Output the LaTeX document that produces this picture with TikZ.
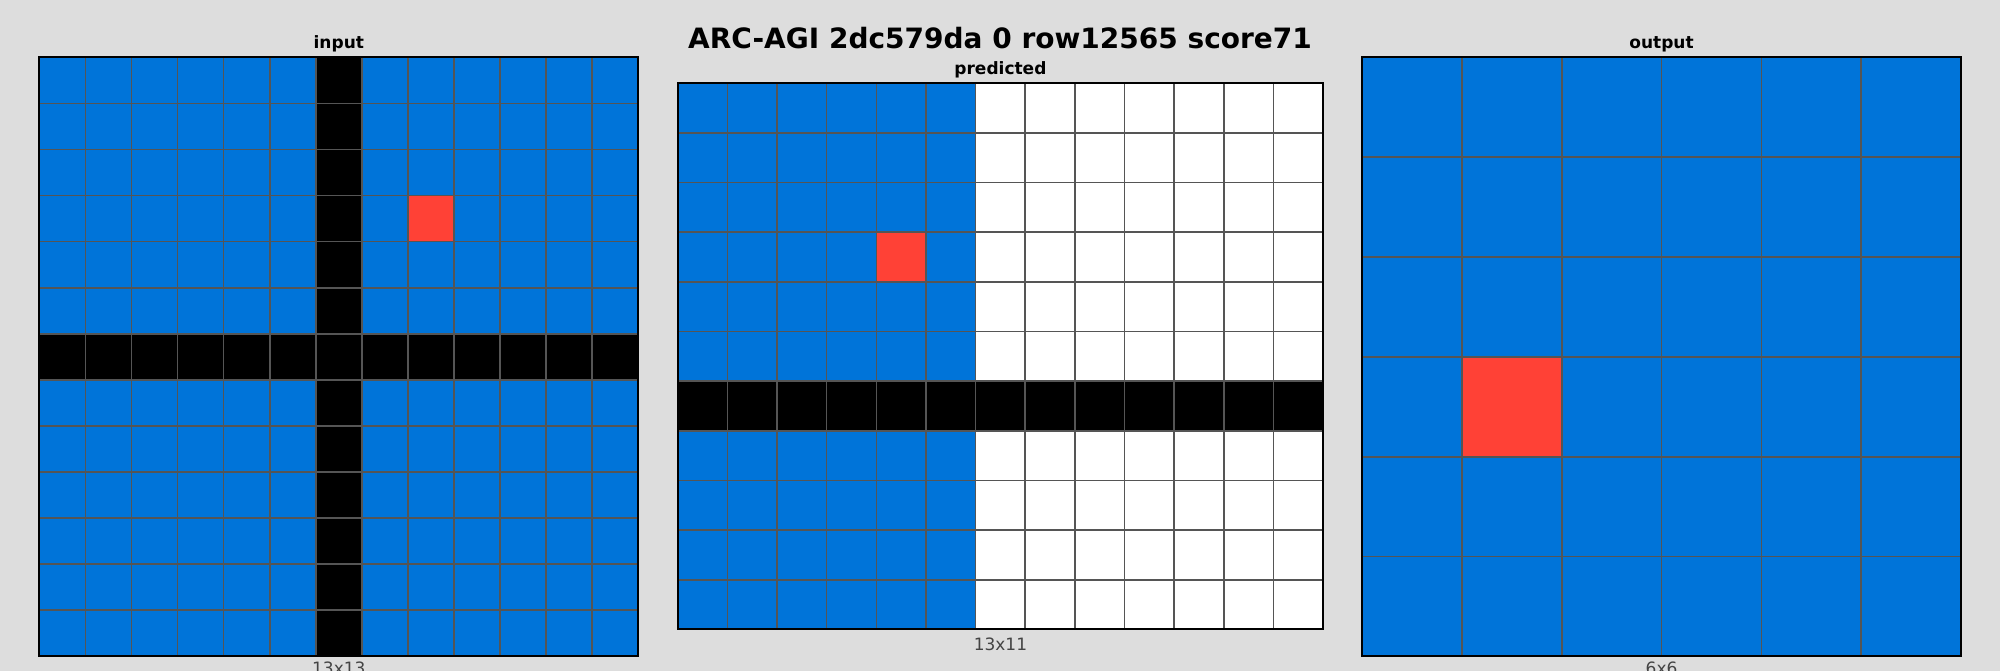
\documentclass[tikz,border=0pt]{standalone}
\usepackage{fontspec}
\setmainfont{DejaVu Sans}
\definecolor{arcblue}{HTML}{0074D9}
\definecolor{arcred}{HTML}{FF4136}
\definecolor{bggray}{HTML}{DDDDDD}
\definecolor{linegray}{HTML}{555555}
\definecolor{labelgray}{HTML}{444444}

\begin{document}
\begin{tikzpicture}[
    x=1pt, y=-1pt,
    heading/.style={inner sep=0pt, anchor=base, font=\fontsize{28}{32}\selectfont\bfseries},
    panel/.style={inner sep=0pt, anchor=base, font=\fontsize{17}{20}\selectfont\bfseries},
    dims/.style={inner sep=0pt, anchor=base, text=labelgray, font=\fontsize{17}{20}\selectfont},
    cellline/.style={draw=linegray, line width=1.6pt},
    frame/.style={draw=black, line width=2pt}
]

% Background
\fill[bggray] (0,0) rectangle (2000,671);
\useasboundingbox (0,0) rectangle (2000,671);

% Title
\node[heading] (title) at (1000,49) {ARC-AGI 2dc579da 0 row12565 score71};

% Input grid (13x13)
\def\ix{39.3} \def\iy{57.3} \def\ic{46.08}
\fill[arcblue] (\ix,\iy) rectangle ++(13*\ic,13*\ic);
\fill[black] (\ix+6*\ic,\iy) rectangle ++(\ic,13*\ic);
\fill[black] (\ix,\iy+6*\ic) rectangle ++(13*\ic,\ic);
\fill[arcred] (\ix+8*\ic,\iy+3*\ic) rectangle ++(\ic,\ic);
\foreach \k in {1,...,12} {
    \draw[cellline] (\ix+\k*\ic,\iy) -- ++(0,13*\ic);
    \draw[cellline] (\ix,\iy+\k*\ic) -- ++(13*\ic,0);
}
\draw[frame] (\ix,\iy) rectangle ++(13*\ic,13*\ic);
\node[panel] (inputtitle) at (\ix+6.5*\ic,48.5) {input};
\node[dims] (inputsize) at (\ix+6.5*\ic,674.7) {13x13};

% Predicted grid (13x11)
\def\px{677.7} \def\py{83.3} \def\pc{49.65}
\fill[white] (\px,\py) rectangle ++(13*\pc,11*\pc);
\fill[arcblue] (\px,\py) rectangle ++(6*\pc,11*\pc);
\fill[black] (\px,\py+6*\pc) rectangle ++(13*\pc,\pc);
\fill[arcred] (\px+4*\pc,\py+3*\pc) rectangle ++(\pc,\pc);
\foreach \k in {1,...,12} {
    \draw[cellline] (\px+\k*\pc,\py) -- ++(0,11*\pc);
}
\foreach \k in {1,...,10} {
    \draw[cellline] (\px,\py+\k*\pc) -- ++(13*\pc,0);
}
\draw[frame] (\px,\py) rectangle ++(13*\pc,11*\pc);
\node[panel] (predictedtitle) at (\px+6.5*\pc,74.5) {predicted};
\node[dims] (predictedsize) at (\px+6.5*\pc,650.3) {13x11};

% Output grid (6x6)
\def\ox{1362} \def\oy{57.3} \def\oc{99.85}
\fill[arcblue] (\ox,\oy) rectangle ++(6*\oc,6*\oc);
\fill[arcred] (\ox+\oc,\oy+3*\oc) rectangle ++(\oc,\oc);
\foreach \k in {1,...,5} {
    \draw[cellline] (\ox+\k*\oc,\oy) -- ++(0,6*\oc);
    \draw[cellline] (\ox,\oy+\k*\oc) -- ++(6*\oc,0);
}
\draw[frame] (\ox,\oy) rectangle ++(6*\oc,6*\oc);
\node[panel] (outputtitle) at (\ox+3*\oc,48.5) {output};
\node[dims] (outputsize) at (\ox+3*\oc,674.7) {6x6};

\end{tikzpicture}
\end{document}
